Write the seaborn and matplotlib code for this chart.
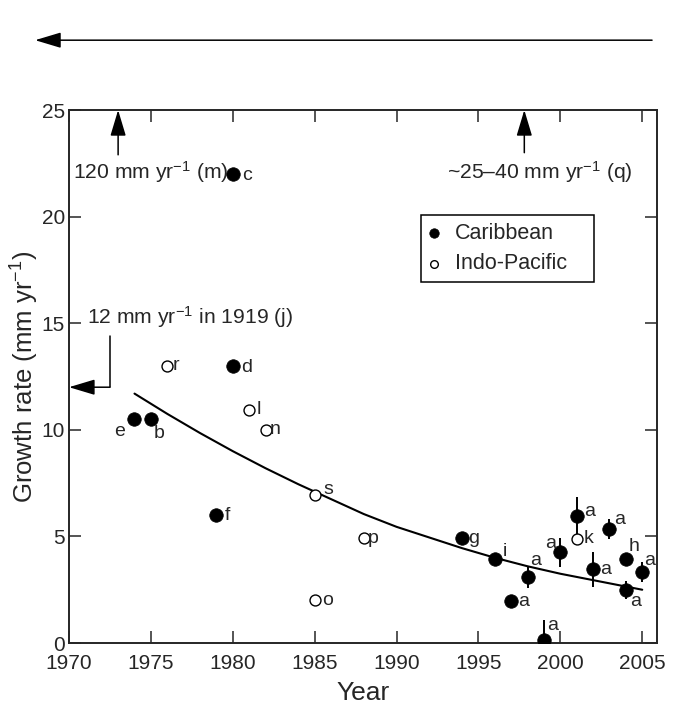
import matplotlib
matplotlib.use('Agg')
import matplotlib.pyplot as plt
import seaborn as sns
import pandas as pd

# Caribbean sites (filled circles)
carib_year = [1974, 1975, 1979, 1980, 1980, 1994, 1996, 1997, 1998, 1999, 2000, 2001, 2002, 2003, 2004, 2004, 2005]
carib_rate = [10.5, 10.5, 6.0, 13.0, 22.0, 4.95, 3.95, 1.95, 3.1, 0.15, 4.25, 5.95, 3.45, 5.35, 3.95, 2.5, 3.35]
carib_err = [0, 0, 0, 0, 0, 0, 0, 0.3, 0.5, 0.95, 0.7, 0.9, 0.8, 0.45, 0, 0.42, 0.47]
carib_label = ['e', 'b', 'f', 'd', 'c', 'g', 'i', 'a', 'a', 'a', 'a', 'a', 'a', 'a', 'h', 'a', 'a']

# Indo-Pacific sites (open circles)
indo_year = [1976, 1981, 1982, 1985, 1985, 1988, 2001]
indo_rate = [13.0, 10.95, 10.0, 6.95, 2.0, 4.95, 4.9]
indo_label = ['r', 'l', 'n', 's', 'o', 'p', 'k']

# trend curve
curve_year = [1974, 1976, 1978, 1980, 1982, 1984, 1986, 1988, 1990, 1992, 1994, 1996, 1998, 2000, 2002, 2004, 2005]
curve_rate = [11.7, 10.75, 9.85, 9.0, 8.2, 7.45, 6.75, 6.05, 5.45, 4.95, 4.45, 4.0, 3.6, 3.25, 2.95, 2.65, 2.5]

# label offsets in points (dx, dy)
carib_off = [(-11, -9), (6, -10), (8, 0), (10, -1), (10, -1), (8.5, -1), (7, 5.5), (9, 0), (6, 12),
             (6.5, 10), (-6.7, 6.5), (9, 3.6), (9, 0), (7.2, 6.5), (6, 9), (7.2, -8.4), (5.3, 8)]
indo_off = [(6.3, 0), (7.2, 0), (7.2, 0), (9.6, 3.6), (9.4, 0), (7, -1), (8.4, 0)]

sns.set_style('ticks')
plt.rcParams['font.family'] = ['Liberation Sans', 'DejaVu Sans']
plt.rcParams['mathtext.fontset'] = 'custom'
plt.rcParams['mathtext.rm'] = 'Liberation Sans'
plt.rcParams['mathtext.it'] = 'Liberation Sans:italic'

fig = plt.figure(figsize=(6.75, 7.05), dpi=100)
ax = fig.add_axes([0.1022, 0.0879, 0.8711, 0.7560])

df_c = pd.DataFrame({'year': carib_year, 'rate': carib_rate, 'err': carib_err})
df_i = pd.DataFrame({'year': indo_year, 'rate': indo_rate})

# trend line
sns.lineplot(x=curve_year, y=curve_rate, color='black', lw=1.5, ax=ax, zorder=2)

# error bars
eb = df_c[df_c['err'] > 0]
ax.errorbar(eb['year'], eb['rate'], yerr=eb['err'], fmt='none', ecolor='black',
            elinewidth=1.4, capsize=0, zorder=3)

sns.scatterplot(data=df_c, x='year', y='rate', color='black', edgecolor='black',
                s=95, linewidth=0.5, ax=ax, label='Caribbean', zorder=4)
sns.scatterplot(data=df_i, x='year', y='rate', color='white', edgecolor='black',
                s=62, linewidth=1.0, ax=ax, label='Indo-Pacific', zorder=4)

for x, y, t, o in zip(carib_year, carib_rate, carib_label, carib_off):
    ax.annotate(t, (x, y), xytext=o, textcoords='offset points', ha='center', va='center',
                fontsize=14, zorder=5)
for x, y, t, o in zip(indo_year, indo_rate, indo_label, indo_off):
    ax.annotate(t, (x, y), xytext=o, textcoords='offset points', ha='center', va='center',
                fontsize=14, zorder=5)

ax.set_xlim(1970, 2005.9)
ax.set_ylim(0, 25)
ax.set_xticks(range(1970, 2006, 5))
ax.set_yticks(range(0, 26, 5))
ax.tick_params(direction='in', length=8.5, width=1.1, top=True, right=True, labelsize=15)
ax.tick_params(axis='x', pad=8)
ax.tick_params(axis='y', pad=3)
for s in ax.spines.values():
    s.set_linewidth(1.4)
    s.set_visible(True)

ax.set_xlabel('Year', fontsize=19)
ax.set_ylabel(r'Growth rate (mm yr$^{-1}$)', fontsize=18.5)
ax.xaxis.set_label_coords(0.5, -0.072)
ax.yaxis.set_label_coords(-0.047, 0.5)

# annotations for off-scale values
arrow = dict(arrowstyle='-|>,head_length=0.8,head_width=0.24', color='black', lw=1.1,
             mutation_scale=20, shrinkA=0, shrinkB=0)
ax.annotate('', xy=(1973, 25), xytext=(1973, 22.9), arrowprops=arrow, annotation_clip=False)
ax.text(1970.25, 22.1, r'120 mm yr$^{-1}$ (m)', fontsize=15.2, ha='left', va='center')
ax.annotate('', xy=(1997.8, 25), xytext=(1997.8, 23.0), arrowprops=arrow, annotation_clip=False)
ax.text(2004.4, 22.1, r'~25–40 mm yr$^{-1}$ (q)', fontsize=15.2, ha='right', va='center')

ax.plot([1972.5, 1972.5], [14.4, 12.0], color='black', lw=1.1)
ax.annotate('', xy=(1970, 12), xytext=(1972.5, 12), arrowprops=arrow, annotation_clip=False)
ax.text(1971.1, 15.3, r'12 mm yr$^{-1}$ in 1919 (j)', fontsize=15.2, ha='left', va='center')

# arrow across the top of the figure
ax.annotate('', xy=(0.052, 0.943), xytext=(0.966, 0.943), xycoords='figure fraction',
            textcoords='figure fraction', arrowprops=arrow, annotation_clip=False)

leg = ax.legend(loc='upper left', bbox_to_anchor=(0.599, 0.70, 0.294, 0.103), mode='expand',
                borderaxespad=0, fontsize=15.5, frameon=True, fancybox=False, markerscale=0.7,
                handletextpad=0.7, borderpad=0.35, labelspacing=0.45, handlelength=0.5)
leg.get_frame().set_edgecolor('black')
leg.get_frame().set_linewidth(1.1)
leg.get_frame().set_alpha(1)

plt.savefig('out.png', dpi=100)
